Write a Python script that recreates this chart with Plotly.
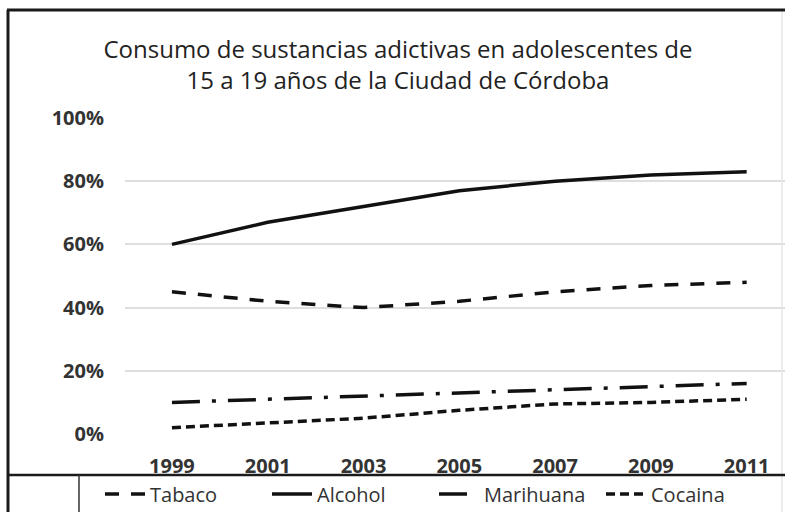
import plotly.graph_objects as go

# Survey years and prevalence (%) per substance
years = [1999, 2001, 2003, 2005, 2007, 2009, 2011]
tabaco = [45, 42, 40, 42, 45, 47, 48]
alcohol = [60, 67, 72, 77, 80, 82, 83]
marihuana = [10, 11, 12, 13, 14, 15, 16]
cocaina = [2, 3.5, 5, 7.5, 9.5, 10, 11]

y_ticks = [0, 20, 40, 60, 80, 100]
y_tick_text = ["0%", "20%", "40%", "60%", "80%", "100%"]

title_text = ("Consumo de sustancias adictivas en adolescentes de<br>"
              "15 a 19 años de la Ciudad de Córdoba")

W, H = 785, 512
ML, MR, MT, MB = 125, 0, 118, 78
PW, PH = W - ML - MR, H - MT - MB


def px_x(px):
    return (px - ML) / PW


def px_y(py):
    return (H - MB - py) / PH


ink = "#111111"
series = [
    ("Tabaco", tabaco, "14px,12px"),
    ("Alcohol", alcohol, "solid"),
    ("Marihuana", marihuana, "28px,12px,4px,12px"),
    ("Cocaina", cocaina, "9px,5px"),
]

fig = go.Figure()
for name, vals, dash in series:
    fig.add_trace(go.Scatter(
        x=years, y=vals, name=name, mode="lines",
        line=dict(color=ink, width=3.5, dash=dash),
    ))

frame = [
    # faint right edge
    dict(x0=px_x(782), x1=px_x(782), y0=px_y(12), y1=px_y(512), color="#e6e6e6", width=1.5),
    # outer frame: left and top edges
    dict(x0=px_x(8), x1=px_x(8), y0=px_y(10), y1=px_y(512), color="#1a1a1a", width=3),
    dict(x0=px_x(7), x1=px_x(785), y0=px_y(10), y1=px_y(10), color="#1a1a1a", width=3),
    # separator above the legend row
    dict(x0=px_x(8), x1=px_x(785), y0=px_y(475), y1=px_y(475), color="#1a1a1a", width=2.5),
    # legend cell divider
    dict(x0=px_x(79), x1=px_x(79), y0=px_y(475), y1=px_y(512), color="#333333", width=1.5),
]
for f in frame:
    fig.add_shape(type="line", xref="paper", yref="paper",
                  x0=f["x0"], x1=f["x1"], y0=f["y0"], y1=f["y1"],
                  line=dict(color=f["color"], width=f["width"]))

tick_font = dict(family="Open Sans", size=20, color="#333333", weight="bold")

fig.update_layout(
    width=W, height=H,
    margin=dict(l=ML, r=MR, t=MT, b=MB, autoexpand=False),
    paper_bgcolor="white", plot_bgcolor="white",
    font=dict(family="Open Sans", color="#333333"),
    title=dict(text=title_text, x=px_x(398), xanchor="center", xref="paper",
               y=1 - 58 / H, yanchor="middle",
               font=dict(family="Open Sans", size=24, color="#222222")),
    showlegend=True,
    legend=dict(orientation="h", x=px_x(100), xanchor="left",
                y=px_y(494), yanchor="middle",
                font=dict(family="Open Sans", size=20, color="#333333"),
                bgcolor="rgba(0,0,0,0)", entrywidth=112, itemwidth=40),
    xaxis=dict(range=[1998.02, 2011.8], tickvals=years,
               ticktext=[str(y) for y in years],
               showgrid=False, zeroline=False, showline=False,
               ticks="", ticklabelstandoff=18, tickfont=tick_font),
    yaxis=dict(range=[0, 100], tickvals=y_ticks, ticktext=y_tick_text,
               showgrid=True, gridcolor="#dedede", gridwidth=1.5,
               zeroline=False, showline=False, ticks="", ticklabelstandoff=20,
               tickfont=tick_font),
)

fig.write_html("out.html")
